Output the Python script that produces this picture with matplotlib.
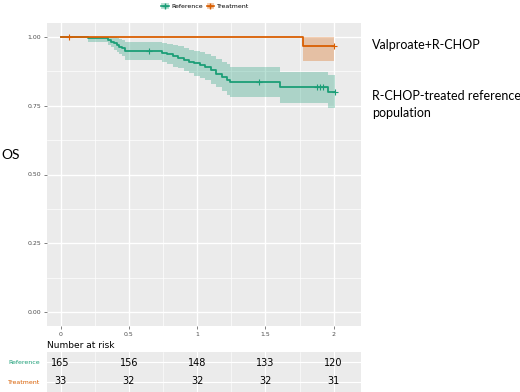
import matplotlib
matplotlib.use("Agg")
import matplotlib.pyplot as plt
from matplotlib.lines import Line2D
from matplotlib.patches import Patch
import numpy as np

# ---- data ----
ref_time  = [0, 0.20, 0.35, 0.37, 0.39, 0.41, 0.43, 0.45, 0.47, 0.74, 0.78, 0.82, 0.86, 0.90, 0.94, 0.98, 1.02, 1.06, 1.10, 1.14, 1.18, 1.22, 1.24, 1.61, 1.96]
ref_surv  = [1.0, 0.994, 0.988, 0.982, 0.976, 0.970, 0.964, 0.958, 0.948, 0.942, 0.936, 0.930, 0.924, 0.915, 0.909, 0.903, 0.897, 0.890, 0.878, 0.866, 0.854, 0.842, 0.835, 0.817, 0.800]
ref_lower = [1.0, 0.982, 0.971, 0.962, 0.953, 0.945, 0.937, 0.929, 0.915, 0.907, 0.900, 0.892, 0.885, 0.874, 0.867, 0.859, 0.852, 0.844, 0.830, 0.816, 0.803, 0.789, 0.782, 0.760, 0.743]
ref_upper = [1.0, 1.0, 1.0, 1.0, 0.999, 0.996, 0.992, 0.988, 0.981, 0.977, 0.973, 0.969, 0.965, 0.958, 0.953, 0.949, 0.944, 0.939, 0.929, 0.920, 0.910, 0.900, 0.891, 0.873, 0.860]
ref_end = 2.01
ref_cens_t = [0.65, 1.45, 1.88, 1.90, 1.92, 2.01]
ref_cens_s = [0.948, 0.835, 0.817, 0.817, 0.817, 0.800]

trt_time  = [0, 1.775]
trt_surv  = [1.0, 0.967]
trt_lower = [1.0, 0.913]
trt_upper = [1.0, 1.0]
trt_end = 2.0
trt_cens_t = [0.06, 2.0]
trt_cens_s = [1.0, 0.967]

risk_times = [0, 0.5, 1, 1.5, 2]
risk_ref = [165, 156, 148, 133, 120]
risk_trt = [33, 32, 32, 32, 31]

GREEN = "#1B9E77"
ORANGE = "#D95F02"
BG = "#EBEBEB"

plt.rcParams['font.family'] = ['DejaVu Sans']

fig = plt.figure(figsize=(5.2, 3.92), dpi=100)
ax = fig.add_axes([47/520, 1-326/392, (361-47)/520, (326-23)/392])
ax.set_facecolor(BG)
for s in ax.spines.values():
    s.set_visible(False)

ax.set_xlim(-0.1, 2.2)
ax.set_ylim(-0.05, 1.05)
ax.set_xticks([0, 0.5, 1, 1.5, 2])
ax.set_xticklabels(["0", "0.5", "1", "1.5", "2"])
ax.set_yticks([0, 0.25, 0.5, 0.75, 1.0])
ax.set_yticklabels(["0.00", "0.25", "0.50", "0.75", "1.00"])
ax.set_xticks([0.25, 0.75, 1.25, 1.75], minor=True)
ax.set_yticks([0.125, 0.375, 0.625, 0.875], minor=True)
ax.grid(which='major', color='white', lw=1.0)
ax.grid(which='minor', color='white', lw=0.5)
ax.set_axisbelow(True)
ax.tick_params(which='major', labelsize=4.5, colors='#4D4D4D', length=2, width=0.5, pad=2)
ax.tick_params(which='minor', length=0)

def step_arrays(t, s, end):
    tt = list(t) + [end]
    ss = list(s) + [s[-1]]
    return tt, ss

# bands
tt, lo = step_arrays(ref_time, ref_lower, ref_end)
_, up = step_arrays(ref_time, ref_upper, ref_end)
ax.fill_between(tt, lo, up, step='post', color=GREEN, alpha=0.3, lw=0)
tt2, lo2 = step_arrays(trt_time, trt_lower, trt_end)
_, up2 = step_arrays(trt_time, trt_upper, trt_end)
ax.fill_between(tt2, lo2, up2, step='post', color=ORANGE, alpha=0.3, lw=0)

# lines
tt, ss = step_arrays(ref_time, ref_surv, ref_end)
ax.step(tt, ss, where='post', color=GREEN, lw=1.3)
ax.plot(ref_cens_t, ref_cens_s, '+', color=GREEN, ms=4, mew=0.8)
tt2, ss2 = step_arrays(trt_time, trt_surv, trt_end)
ax.step(tt2, ss2, where='post', color=ORANGE, lw=1.3)
ax.plot(trt_cens_t, trt_cens_s, '+', color=ORANGE, ms=4, mew=0.8)

# legend
handles = [
    (Patch(facecolor=GREEN, alpha=0.3), Line2D([], [], color=GREEN, marker='+', lw=1.2, ms=4)),
    (Patch(facecolor=ORANGE, alpha=0.3), Line2D([], [], color=ORANGE, marker='+', lw=1.2, ms=4)),
]
fig.legend(handles, ["Reference", "Treatment"], loc='center', bbox_to_anchor=(205/520, 1-6/392),
           ncol=2, frameon=False, fontsize=4.5, handlelength=1.2, handleheight=1.0,
           columnspacing=0.6, handletextpad=0.4)

# side texts
tf = ['Lato', 'DejaVu Sans']
fig.text(372/520, 1-45/392, "Valproate+R-CHOP", fontsize=9, family=tf, va='center', ha='left')
fig.text(372/520, 1-96/392, "R-CHOP-treated reference", fontsize=9, family=tf, va='center', ha='left')
fig.text(372/520, 1-113/392, "population", fontsize=9, family=tf, va='center', ha='left')
fig.text(1/520, 1-155/392, "OS", fontsize=10, family=tf, va='center', ha='left')

# risk table
fig.text(47/520, 1-345/392, "Number at risk", fontsize=6.5, va='center', ha='left')
rax = fig.add_axes([47/520, 0, (361-47)/520, 40/392])
rax.set_facecolor(BG)
for s in rax.spines.values():
    s.set_visible(False)
rax.set_xlim(-0.1, 2.2)
rax.set_ylim(0, 2)
rax.set_xticks([0, 0.5, 1, 1.5, 2])
rax.set_xticks([0.25, 0.75, 1.25, 1.75], minor=True)
rax.set_yticks([0.5, 1.5])
rax.set_yticklabels(["Treatment", "Reference"])
for lbl, c in zip(rax.get_yticklabels(), [ORANGE, GREEN]):
    lbl.set_color(c)
rax.tick_params(axis='y', labelsize=4.5, length=0, pad=5)
rax.tick_params(axis='x', which='both', length=0, labelbottom=False)
rax.grid(which='major', color='white', lw=0.8)
rax.grid(which='minor', color='white', lw=0.4)
rax.set_axisbelow(True)
for t, n in zip(risk_times, risk_ref):
    rax.text(t, 1.45, str(n), ha='center', va='center', fontsize=7)
for t, n in zip(risk_times, risk_trt):
    rax.text(t, 0.55, str(n), ha='center', va='center', fontsize=7)

fig.savefig("out.png", dpi=100)
